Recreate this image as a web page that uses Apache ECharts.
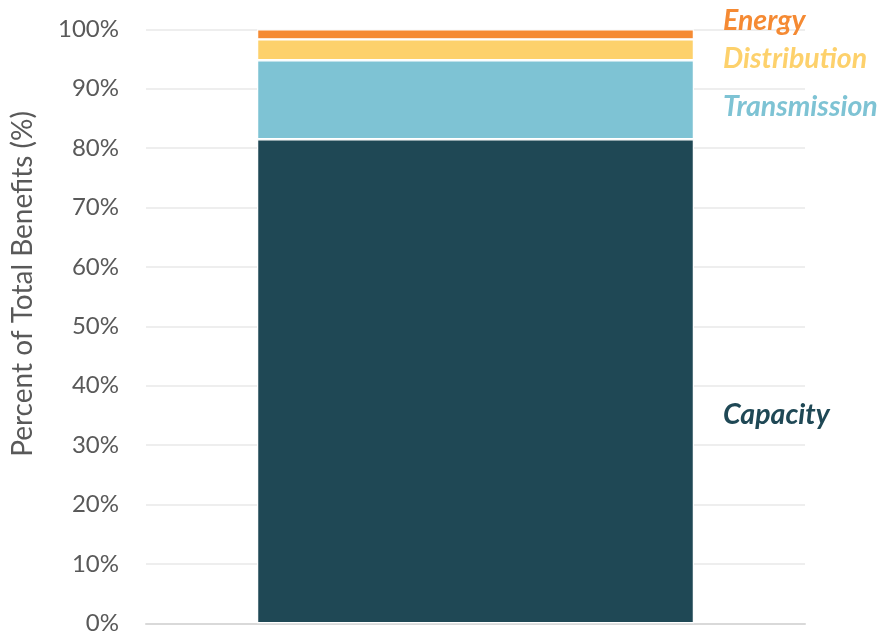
<!DOCTYPE html>
<html>
<head>
<meta charset="utf-8">
<script src="https://cdn.jsdelivr.net/npm/echarts@6/dist/echarts.min.js"></script>
<style>
  html, body { margin: 0; padding: 0; background: #ffffff; }
  #chart { width: 892px; height: 636px; }
</style>
</head>
<body>
<div id="chart"></div>
<script>
// Share of total benefits by benefit component (percent)
const categories = ['Total'];
const capacity = [81.5];
const transmission = [13.3];
const distribution = [3.5];
const energy = [1.7];
const yTicks = [0, 10, 20, 30, 40, 50, 60, 70, 80, 90, 100];

const FONT = 'Lato, "Open Sans", sans-serif';

const seriesDefs = [
  { name: 'Capacity', data: capacity, color: '#1F4855', offset: [0, 34] },
  { name: 'Transmission', data: transmission, color: '#7EC3D4', offset: [0, 7] },
  { name: 'Distribution', data: distribution, color: '#FDD16C', offset: [0, 9] },
  { name: 'Energy', data: energy, color: '#F58A33', offset: [0, -14] }
];

const chart = echarts.init(document.getElementById('chart'), null, { renderer: 'canvas' });

chart.setOption({
  animation: false,
  backgroundColor: '#ffffff',
  grid: { left: 146, right: 87, top: 29.3, bottom: 12.7, containLabel: false },
  xAxis: {
    type: 'category',
    data: categories,
    axisLine: { show: true, lineStyle: { color: '#d9d9d9', width: 2 } },
    axisTick: { show: false },
    axisLabel: { show: false }
  },
  yAxis: {
    type: 'value',
    min: yTicks[0],
    max: yTicks[yTicks.length - 1],
    interval: 10,
    axisLine: { show: false },
    axisTick: { show: false },
    splitLine: { lineStyle: { color: '#eeeeee', width: 2 } },
    axisLabel: {
      formatter: '{value}%',
      color: '#595959',
      fontFamily: FONT,
      fontSize: 24,
      margin: 27
    }
  },
  graphic: [{
    type: 'text',
    x: 23,
    y: 284,
    rotation: Math.PI / 2,
    style: {
      text: 'Percent of Total Benefits (%)',
      fill: '#595959',
      font: '28px ' + FONT,
      align: 'center',
      verticalAlign: 'middle'
    }
  }],
  series: seriesDefs.map(s => ({
    name: s.name,
    type: 'bar',
    stack: 'total',
    barWidth: '66.3%',
    data: s.data,
    itemStyle: { color: s.color, borderColor: '#ffffff', borderWidth: 1.2 },
    label: {
      show: true,
      position: 'right',
      distance: 29,
      offset: s.offset,
      formatter: s.name,
      color: s.color,
      fontFamily: FONT,
      fontSize: 28.5,
      fontStyle: 'italic',
      fontWeight: 'bold'
    }
  }))
});
</script>
</body>
</html>
